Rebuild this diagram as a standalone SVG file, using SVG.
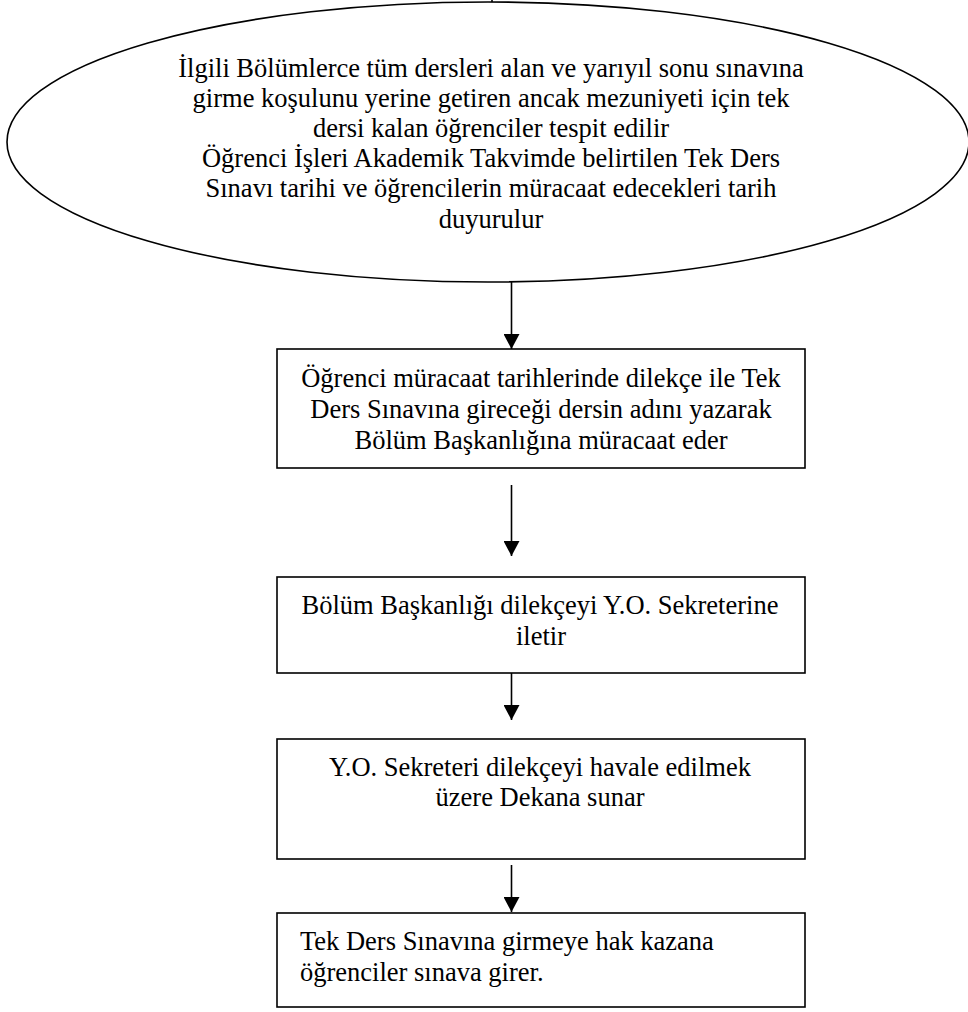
<svg xmlns="http://www.w3.org/2000/svg" width="968" height="1012" viewBox="0 0 968 1012">
<style>
.shape{fill:#fff;stroke:#000;stroke-width:1.6}
text{font-family:'Liberation Serif','Times New Roman',serif;font-size:26.5px;fill:#000}
.c{text-anchor:middle}
.conn{stroke:#000;stroke-width:1.6;fill:none}
</style>
<defs>
<marker id="ah" markerWidth="16" markerHeight="16" refX="15" refY="8" orient="auto" markerUnits="userSpaceOnUse">
<path d="M0,0 L15,8 L0,16 Z" fill="#000"/>
</marker>
</defs>
<rect width="968" height="1012" fill="#fff"/>
<g id="connectors">
<line class="conn" x1="492" y1="0" x2="492" y2="4"/>
<line class="conn" x1="511.5" y1="282" x2="511.5" y2="349" marker-end="url(#ah)"/>
<line class="conn" x1="511.5" y1="485" x2="511.5" y2="556" marker-end="url(#ah)"/>
<line class="conn" x1="511.5" y1="673" x2="511.5" y2="720" marker-end="url(#ah)"/>
<line class="conn" x1="511.5" y1="865" x2="511.5" y2="912" marker-end="url(#ah)"/>
</g>
<g font-family="Liberation Serif, Times New Roman, serif" font-size="26.5">
<g id="start">
<ellipse class="shape" cx="488" cy="142" rx="481" ry="140"/>
<text class="c" x="491" y="77">İlgili Bölümlerce tüm dersleri alan ve yarıyıl sonu sınavına</text>
<text class="c" x="491" y="107">girme koşulunu yerine getiren ancak mezuniyeti için tek</text>
<text class="c" x="491" y="137">dersi kalan öğrenciler tespit edilir</text>
<text class="c" x="491" y="167">Öğrenci İşleri Akademik Takvimde belirtilen Tek Ders</text>
<text class="c" x="491" y="197">Sınavı tarihi ve öğrencilerin müracaat edecekleri tarih</text>
<text class="c" x="491" y="228">duyurulur</text>
</g>
<g id="step1">
<rect class="shape" x="277" y="349" width="528" height="119"/>
<text class="c" x="541" y="387">Öğrenci müracaat tarihlerinde dilekçe ile Tek</text>
<text class="c" x="541" y="418">Ders Sınavına gireceği dersin adını yazarak</text>
<text class="c" x="541" y="449">Bölüm Başkanlığına müracaat eder</text>
</g>
<g id="step2">
<rect class="shape" x="277" y="577" width="528" height="96"/>
<text class="c" x="540" y="614">Bölüm Başkanlığı dilekçeyi Y.O. Sekreterine</text>
<text class="c" x="541" y="645">iletir</text>
</g>
<g id="step3">
<rect class="shape" x="277" y="739" width="528" height="120"/>
<text class="c" x="540" y="776">Y.O. Sekreteri dilekçeyi havale edilmek</text>
<text class="c" x="540" y="806">üzere Dekana sunar</text>
</g>
<g id="step4">
<rect class="shape" x="277" y="913" width="528" height="94"/>
<text x="300" y="950">Tek Ders Sınavına girmeye hak kazana</text>
<text x="300" y="981">öğrenciler sınava girer.</text>
</g>
</g>
</svg>
